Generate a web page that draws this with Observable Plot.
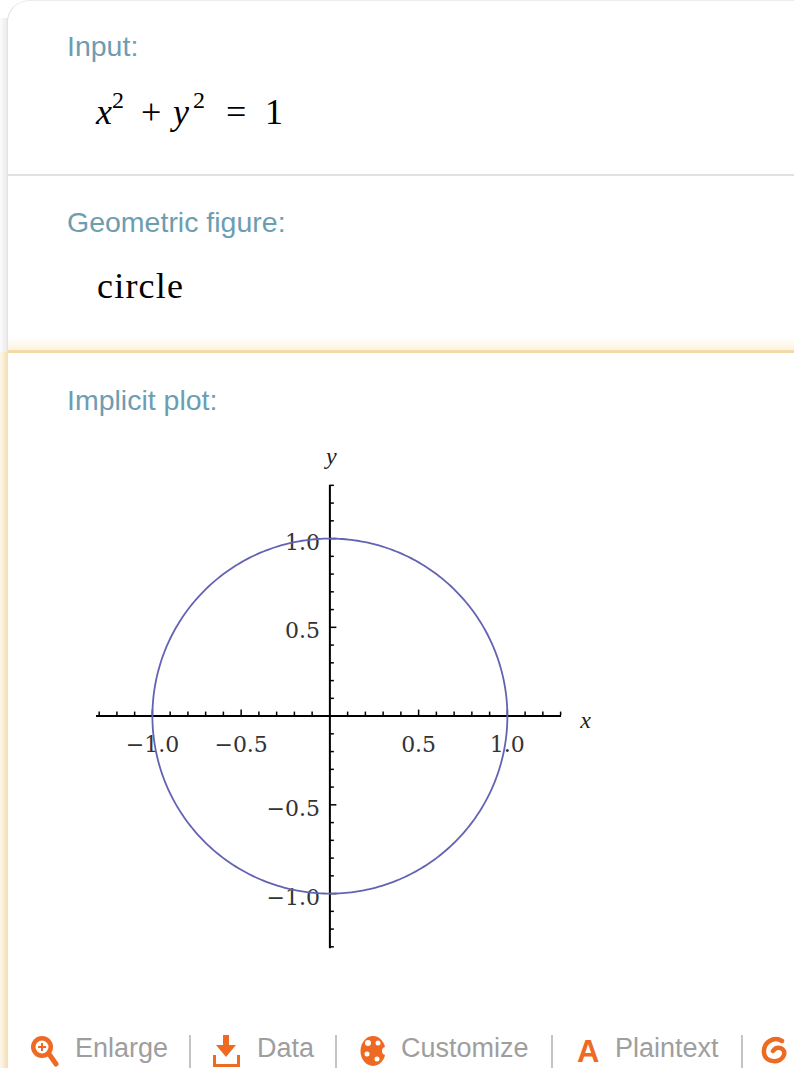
<!DOCTYPE html>
<html>
<head>
<meta charset="utf-8">
<script src="https://cdn.jsdelivr.net/npm/d3@7"></script>
<script src="https://cdn.jsdelivr.net/npm/@observablehq/plot@0.6"></script>
<style>
html, body { margin: 0; padding: 0; background: #fff; }
body { width: 794px; height: 1068px; overflow: hidden; position: relative; font-family: "Liberation Sans", Arial, sans-serif; }
.abs { position: absolute; white-space: nowrap; line-height: 1; }
.strip-gray { position: absolute; left: 0; top: 18px; width: 8px; height: 334px; background: linear-gradient(to right, #fcfcfc, #e8e8e8); }
.strip-beige { position: absolute; left: 0; top: 352px; width: 8px; height: 716px; background: linear-gradient(to right, #fdf8ee, #f3ddae); }
.card { position: absolute; left: 7px; top: 0; width: 820px; height: 1100px; background: #fff; border-top-left-radius: 22px; border-left: 1px solid #e2e2e2; border-top: 1px solid #ececec; box-sizing: border-box; }
.sep { position: absolute; left: 8px; top: 174px; width: 786px; height: 2px; background: #e1e1e1; }
.glow { position: absolute; left: 8px; top: 338px; width: 786px; height: 12px; background: linear-gradient(to bottom, rgba(254,248,236,0), #fdf2de); }
.orange-line { position: absolute; left: 8px; top: 350px; width: 786px; height: 3px; background: #f2daa9; }
.podtitle { font-family: "Liberation Sans", Arial, sans-serif; font-size: 28.5px; color: #6d9db1; }
.serif { font-family: "Liberation Serif", "Times New Roman", serif; color: #000; }
.btn { font-family: "Liberation Sans", Arial, sans-serif; font-size: 27px; color: #9e9e9e; }
#plot { position: absolute; left: 0; top: 440px; }
</style>
</head>
<body>
<div class="strip-gray"></div>
<div class="strip-beige"></div>
<div class="card"></div>
<div class="sep"></div>
<div class="glow"></div>
<div class="orange-line"></div>

<div class="abs podtitle" style="left:67px; top:31.9px;">Input:</div>
<div class="abs serif" style="left:96px; top:93.9px; font-size:36px; font-style:italic;">x</div>
<div class="abs serif" style="left:112px; top:87.9px; font-size:24px;">2</div>
<div class="abs serif" style="left:141px; top:93.9px; font-size:36px;">+</div>
<div class="abs serif" style="left:173px; top:93.9px; font-size:36px; font-style:italic;">y</div>
<div class="abs serif" style="left:193px; top:87.9px; font-size:24px;">2</div>
<div class="abs serif" style="left:226px; top:93.9px; font-size:36px;">=</div>
<div class="abs serif" style="left:265px; top:93.9px; font-size:36px;">1</div>

<div class="abs podtitle" style="left:67px; top:207.9px;">Geometric figure:</div>
<div class="abs serif" style="left:97px; top:267.9px; font-size:36px; letter-spacing:1.2px;">circle</div>

<div class="abs podtitle" style="left:67px; top:385.9px;">Implicit plot:</div>

<div id="plot"></div>

<svg style="position:absolute; left:0; top:1030px;" width="794" height="38" viewBox="0 1030 794 38">
  <!-- magnifier -->
  <line x1="49" y1="1054" x2="56" y2="1064" stroke="#ee6a23" stroke-width="5" stroke-linecap="round"/>
  <circle cx="42" cy="1047" r="11" fill="#ee6a23"/>
  <circle cx="42" cy="1047" r="6.5" fill="#fff"/>
  <line x1="42" y1="1043" x2="42" y2="1051" stroke="#ee6a23" stroke-width="2"/>
  <line x1="38" y1="1047" x2="46" y2="1047" stroke="#ee6a23" stroke-width="2"/>
  <line x1="190" y1="1035" x2="190" y2="1068" stroke="#b0b0b0" stroke-width="1.5"/>
  <!-- download -->
  <rect x="223" y="1035" width="6" height="12" fill="#ee6a23"/>
  <polygon points="216,1045 236,1045 226,1057" fill="#ee6a23"/>
  <path d="M214.5 1055 V1065.5 H238.5 V1055" stroke="#ee6a23" stroke-width="3" fill="none"/>
  <line x1="336" y1="1035" x2="336" y2="1068" stroke="#b0b0b0" stroke-width="1.5"/>
  <!-- palette -->
  <ellipse cx="373" cy="1051" rx="12.5" ry="15" fill="#ee6a23"/>
  <circle cx="386" cy="1051" r="4" fill="#fff"/>
  <circle cx="368" cy="1043" r="3" fill="#fff"/>
  <circle cx="378" cy="1043" r="2.5" fill="#fff"/>
  <circle cx="367" cy="1054" r="2.5" fill="#fff"/>
  <circle cx="377" cy="1059" r="2.5" fill="#fff"/>
  <line x1="552" y1="1035" x2="552" y2="1068" stroke="#b0b0b0" stroke-width="1.5"/>
  <line x1="742" y1="1035" x2="742" y2="1068" stroke="#b0b0b0" stroke-width="1.5"/>
  <!-- swirl -->
  <path d="M782 1041 C 774 1036, 763 1042, 764 1053 C 765 1063, 781 1064, 784 1055 C 786 1048, 777 1045, 773 1051" stroke="#ee6a23" stroke-width="4.5" fill="none" stroke-linecap="round"/>
</svg>
<div class="abs btn" style="left:75px; top:1035.1px;">Enlarge</div>
<div class="abs btn" style="left:257px; top:1035.1px;">Data</div>
<div class="abs btn" style="left:401px; top:1035.1px;">Customize</div>
<div class="abs" style="left:577px; top:1036px; font-family:'Liberation Sans',Arial,sans-serif; font-weight:bold; font-size:31px; color:#ee6a23;">A</div>
<div class="abs btn" style="left:615px; top:1035.1px;">Plaintext</div>

<script>
// ---- data: the implicit curve x^2 + y^2 = r^2 and axis ticks ----
const circleRadius = [1];
const circleCenter = [0, 0];
const xMajorTicks = [-1.0, -0.5, 0.5, 1.0];
const xTickLabels = ["\u22121.0", "\u22120.5", "0.5", "1.0"];
const yMajorTicks = [-1.0, -0.5, 0.5, 1.0];
const yTickLabels = ["\u22121.0", "\u22120.5", "0.5", "1.0"];
const minorTicks = [-1.3, -1.2, -1.1, -0.9, -0.8, -0.7, -0.6, -0.4, -0.3, -0.2, -0.1,
                    0.1, 0.2, 0.3, 0.4, 0.6, 0.7, 0.8, 0.9, 1.1, 1.2, 1.3];
const axisNames = ["x", "y"];
const xDomain = [-1.315, 1.305];
const yDomain = [-1.311, 1.299];

// points satisfying x^2 + y^2 = r^2 (the plotted relation)
const angles = d3.range(0, 361, 1);
const curve = circleRadius.flatMap(r => angles.map(a => ({
  x: circleCenter[0] + r * Math.cos(a * Math.PI / 180),
  y: circleCenter[1] + r * Math.sin(a * Math.PI / 180)
})));

const xTicks = xMajorTicks.map((v, i) => ({v, label: xTickLabels[i]}));
const yTicks = yMajorTicks.map((v, i) => ({v, label: yTickLabels[i]}));

const tickFont = "'DejaVu Serif', serif";
const chart = Plot.plot({
  width: 640,
  height: 520,
  marginLeft: 96,
  marginRight: 79,
  marginTop: 45,
  marginBottom: 11.7,
  x: {domain: xDomain, axis: null},
  y: {domain: yDomain, axis: null},
  style: {background: "transparent", overflow: "visible", fontFamily: tickFont},
  marks: [
    // axis lines through origin
    Plot.ruleY([0], {stroke: "#000", strokeWidth: 2}),
    Plot.ruleX([0], {stroke: "#000", strokeWidth: 2}),
    // x ticks (upward)
    Plot.ruleX(xMajorTicks, {x: d => d, y1: 0, y2: 0, insetTop: -6, stroke: "#000", strokeWidth: 1.5}),
    Plot.ruleX(minorTicks, {x: d => d, y1: 0, y2: 0, insetTop: -4, stroke: "#000", strokeWidth: 1.5}),
    // y ticks (rightward)
    Plot.ruleY(yMajorTicks, {y: d => d, x1: 0, x2: 0, insetRight: -7, stroke: "#000", strokeWidth: 1.5}),
    Plot.ruleY(minorTicks, {y: d => d, x1: 0, x2: 0, insetRight: -4.5, stroke: "#000", strokeWidth: 1.5}),
    // tick labels
    Plot.text(xTicks, {x: "v", y: 0, text: "label", dy: 28.5, fontSize: 22, fill: "#333", fontFamily: tickFont}),
    Plot.text(yTicks, {x: 0, y: "v", text: "label", dx: -10, dy: 4, textAnchor: "end", fontSize: 22, fill: "#333", fontFamily: tickFont}),
    // axis names
    Plot.text([axisNames[0]], {x: xDomain[1], y: 0, text: d => d, dx: 24, dy: 4, fontSize: 24, fontStyle: "italic", fill: "#222", fontFamily: "'Liberation Serif', serif"}),
    Plot.text([axisNames[1]], {x: 0, y: yDomain[1], text: d => d, dx: 1.5, dy: -29, fontSize: 24, fontStyle: "italic", fill: "#222", fontFamily: "'Liberation Serif', serif"}),
    // the implicit curve
    Plot.line(curve, {x: "x", y: "y", stroke: "#6363b3", strokeWidth: 1.8})
  ]
});
document.getElementById("plot").appendChild(chart);
</script>
</body>
</html>
